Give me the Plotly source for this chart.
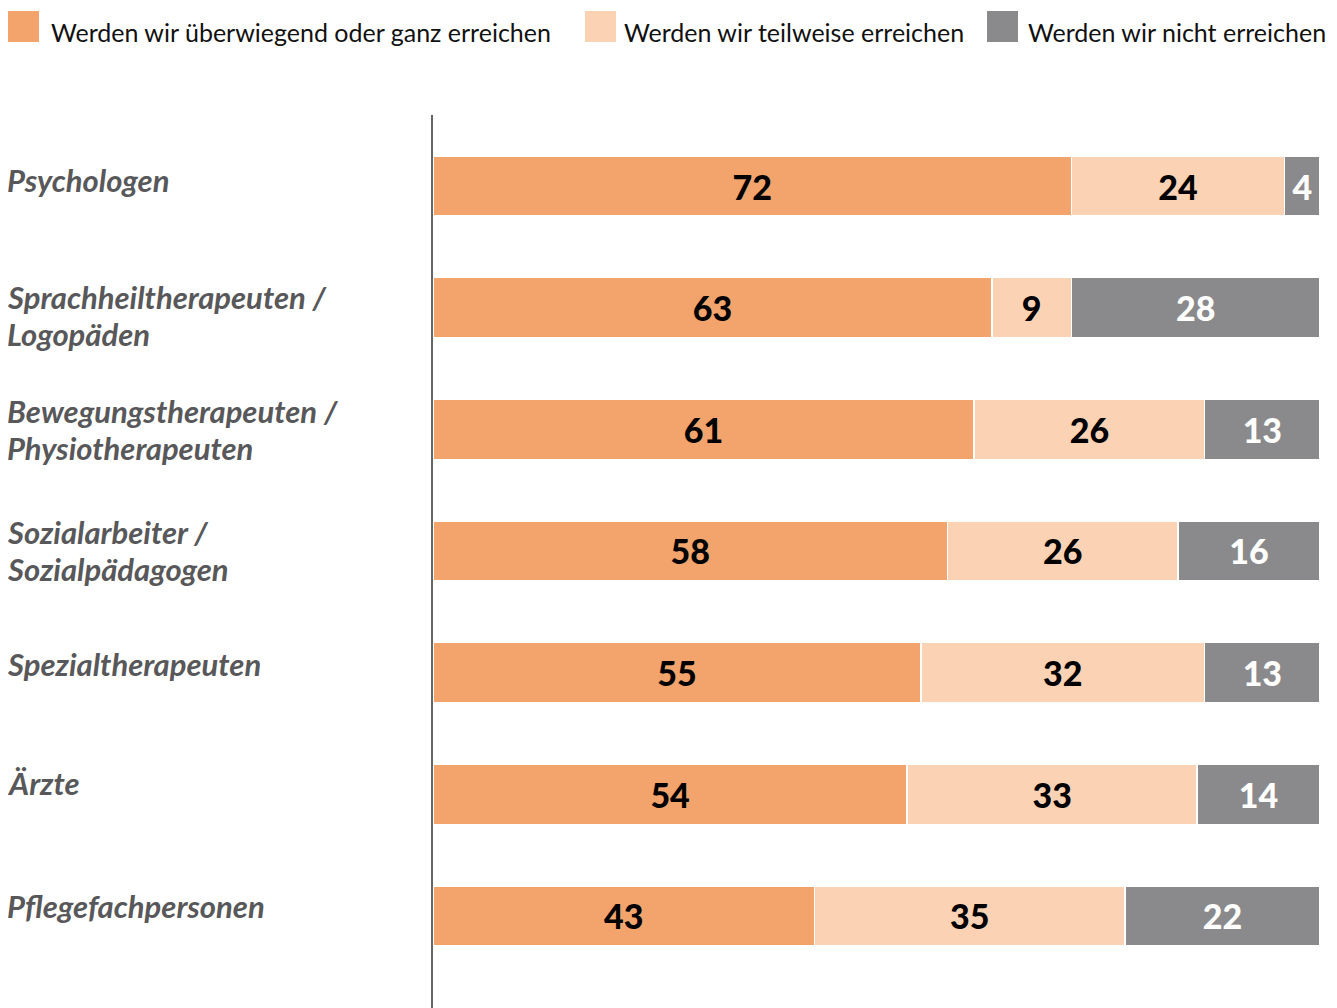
import plotly.graph_objects as go

categories = [
    "Psychologen",
    "Sprachheiltherapeuten /<br>Logopäden",
    "Bewegungstherapeuten /<br>Physiotherapeuten",
    "Sozialarbeiter /<br>Sozialpädagogen",
    "Spezialtherapeuten",
    "Ärzte",
    "Pflegefachpersonen",
]
series_names = [
    "Werden wir überwiegend oder ganz erreichen",
    "Werden wir teilweise erreichen",
    "Werden wir nicht erreichen",
]
v_full = [72, 63, 61, 58, 55, 54, 43]
v_part = [24, 9, 26, 26, 32, 33, 35]
v_not = [4, 28, 13, 16, 13, 14, 22]

colors = ["#F3A46C", "#FBD3B4", "#8A8A8C"]
text_colors = ["#000000", "#000000", "#FFFFFF"]

# page has an 8px body margin; work in screen pixels and convert
OFF = 8
SW, SH = 1337, 1008
W, H = SW - OFF, SH - OFF
ML, MR, MT, MB = 433 - OFF, 17, 115 - OFF, 0
PW, PH = W - ML - MR, H - MT - MB

def px2x(px):
    return (px - OFF - ML) / PW

def py2y(py):
    return (H - MB - (py - OFF)) / PH

FONT = "Lato"

fig = go.Figure()
for name, vals, col, tcol in zip(series_names, [v_full, v_part, v_not], colors, text_colors):
    fig.add_trace(go.Bar(
        y=categories, x=vals, name=name, orientation="h",
        marker=dict(color=col, line=dict(color="#FFFFFF", width=1.5)),
        text=[str(v) for v in vals], textposition="inside",
        insidetextanchor="middle", textangle=0, constraintext="none",
        textfont=dict(family=FONT, size=34, color=tcol, weight=900),
        showlegend=False, hoverinfo="skip",
    ))

# category labels (one annotation per line for tight line spacing)
label_shift = [6, -8, 0, 0, 9, 11, 10]
LINE = 37
for cat, ys in zip(categories, label_shift):
    lines = cat.split("<br>")
    n = len(lines)
    for i, ln in enumerate(lines):
        off = ((n - 1) / 2 - i) * LINE
        fig.add_annotation(
            x=px2x(5), xref="paper", y=cat, yref="y", yshift=ys + off,
            text=ln, showarrow=False, xanchor="left", yanchor="middle", align="left",
            font=dict(family=FONT, size=31, color="#58585A", weight="bold", style="italic"),
        )

# legend (manual)
sq_x = [8, 585, 987]
tx_x = [49, 622, 1026]
for name, col, sx, tx in zip(series_names, colors, sq_x, tx_x):
    fig.add_shape(type="rect", xref="paper", yref="paper",
                  x0=px2x(sx), x1=px2x(sx + 31), y0=py2y(42), y1=py2y(11),
                  fillcolor=col, line=dict(width=0))
    fig.add_annotation(x=px2x(tx), xref="paper", y=py2y(32), yref="paper",
                       text=name, showarrow=False, xanchor="left", yanchor="middle",
                       font=dict(family=FONT, size=25, color="#111111"))

fig.update_layout(
    width=W, height=H, barmode="stack", barnorm="percent",
    bargap=0.505,
    margin=dict(l=ML, r=MR, t=MT, b=MB),
    plot_bgcolor="white", paper_bgcolor="white",
    xaxis=dict(visible=False, range=[0, 100], fixedrange=True),
    yaxis=dict(range=[6.757, -0.584], showticklabels=False, ticks="",
               showgrid=False, zeroline=False, showline=True,
               linecolor="#666666", linewidth=2),
)

fig.write_html("out.html")
